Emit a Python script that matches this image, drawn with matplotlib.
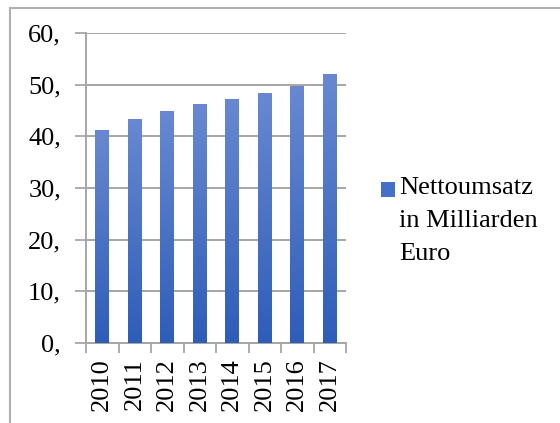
import numpy as np
import matplotlib
matplotlib.use("Agg")
import matplotlib.pyplot as plt
from matplotlib.colors import LinearSegmentedColormap
from matplotlib.patches import Rectangle
from matplotlib.lines import Line2D

# Daten
jahre = ["2010", "2011", "2012", "2013", "2014", "2015", "2016", "2017"]
umsatz = [41.2, 43.4, 44.9, 46.3, 47.2, 48.4, 49.8, 52.0]
yticks = [0, 10, 20, 30, 40, 50, 60]
ytick_labels = ["0,", "10,", "20,", "30,", "40,", "50,", "60,"]
serie = "Nettoumsatz\nin Milliarden\nEuro"

plt.rcParams['font.family'] = ['Liberation Serif', 'DejaVu Serif']
grau = "#a6a6a6"
verlauf = LinearSegmentedColormap.from_list("verlauf", ["#2e5db8", "#6889d1"])

fig = plt.figure(figsize=(5.6, 4.23), dpi=100)
ax = fig.add_axes([86/560, 1-343/423, 260/560, 310/423])

x = np.arange(len(jahre))
bars = ax.bar(x, umsatz, width=0.43, color="none", zorder=3)

# Farbverlauf je Balken (oben hell, unten dunkel)
grad = np.linspace(0, 1, 256).reshape(-1, 1)
for b in bars:
    x0, y0 = b.get_x(), b.get_y()
    w, h = b.get_width(), b.get_height()
    im = ax.imshow(grad, cmap=verlauf, origin="lower", aspect="auto",
                   extent=(x0, x0 + w, y0, y0 + h), zorder=3)
    im.set_clip_path(b)

ax.set_xlim(-0.5, len(jahre) - 0.5)
ax.set_ylim(0, 60)
ax.set_yticks(yticks)
ax.set_yticklabels(ytick_labels, fontsize=19)
ax.set_xticks(x)
ax.set_xticklabels(jahre, rotation=90, fontsize=19)
ax.set_xticks(np.arange(len(jahre) + 1) - 0.5, minor=True)
ax.tick_params(axis="x", which="major", length=0, pad=11)
ax.tick_params(axis="x", which="minor", length=7, width=1.3, color=grau, direction="out")
ax.tick_params(axis="y", length=8, width=1.3, color=grau, pad=10)

ax.grid(axis="y", color=grau, linewidth=1.4, zorder=0)
for s in ["top", "right"]:
    ax.spines[s].set_visible(False)
for s in ["left", "bottom"]:
    ax.spines[s].set_color(grau)
    ax.spines[s].set_linewidth(1.4)

# Legende
fig.patches.append(Rectangle((381/560, 1-197/423), 14/560, 15/423,
                             transform=fig.transFigure, facecolor="#4470c8",
                             edgecolor="none"))
fig.text(399/560, 1-177/423, serie, fontsize=19, va="top", ha="left",
         linespacing=1.65)

# Rahmen
fig.add_artist(Line2D([10/560, 10/560], [0, 1-8.5/423], color="#b0b0b0", lw=1.5,
                      transform=fig.transFigure))
fig.add_artist(Line2D([10/560, 1], [1-8.5/423, 1-8.5/423], color="#b0b0b0", lw=1.5,
                      transform=fig.transFigure))

fig.savefig("out.png", dpi=100, facecolor="white")
